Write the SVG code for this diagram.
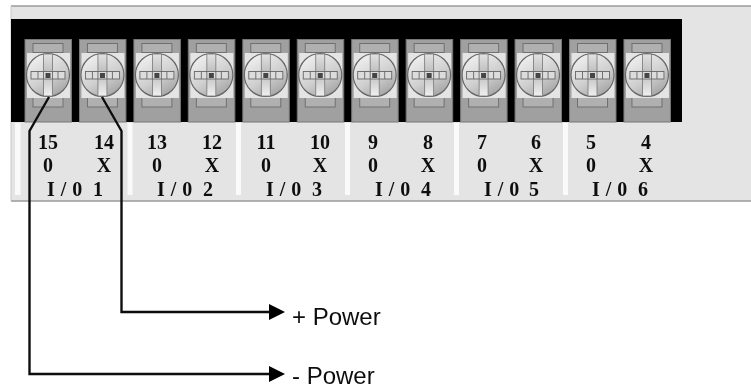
<svg xmlns="http://www.w3.org/2000/svg" width="751" height="389" viewBox="0 0 751 389">
<style>
.lab{font-family:"Liberation Serif","Times New Roman",serif;font-weight:bold;font-size:20px;fill:#111;text-anchor:middle}
.io{font-family:"Liberation Serif","Times New Roman",serif;font-weight:bold;font-size:20px;fill:#111;word-spacing:1px}
.pw{font-family:"Liberation Sans",Arial,sans-serif;font-size:24px;fill:#111}
.wire{fill:none;stroke:#111;stroke-width:2.4;stroke-linejoin:miter}
.sep{fill:#fafafa}
</style>
<defs>
<filter id="soft" x="-2%" y="-2%" width="104%" height="104%"><feGaussianBlur stdDeviation="0.45"/></filter>
<linearGradient id="disc" x1="0.25" y1="0.1" x2="0.75" y2="0.95"><stop offset="0" stop-color="#ececec"/><stop offset="0.55" stop-color="#cfcfcf"/><stop offset="1" stop-color="#a6a6a6"/></linearGradient>
<linearGradient id="barV" x1="0" y1="0" x2="0" y2="1"><stop offset="0" stop-color="#e2e2e2"/><stop offset="0.45" stop-color="#bdbdbd"/><stop offset="1" stop-color="#f0f0f0"/></linearGradient>
<marker id="arrow" markerUnits="userSpaceOnUse" markerWidth="17" markerHeight="18" refX="1" refY="9" orient="auto"><path d="M0 1L16 9L0 17Z" fill="#000"/></marker>
<g id="term">
<rect x="25" y="39.5" width="46.5" height="82.5" fill="#a0a0a0" stroke="#777" stroke-width="1"/>
<rect x="33" y="43.5" width="30" height="9" fill="#b0b0b0" stroke="#707070" stroke-width="1"/>
<rect x="33" y="97" width="30" height="10" fill="#b0b0b0" stroke="#707070" stroke-width="1"/>
<rect x="27" y="53" width="43" height="45" fill="#e4e4e4"/>
<circle cx="48" cy="75" r="21.5" fill="url(#disc)" stroke="#666" stroke-width="1.2"/>
<rect x="43.5" y="54" width="9" height="42" fill="url(#barV)" stroke="#777" stroke-width="0.8"/>
<rect x="31" y="71.5" width="34" height="7.5" fill="#dcdcdc" stroke="#666" stroke-width="0.9"/>
<path d="M38 71.5V79M58 71.5V79M43.5 71.5V79M52.5 71.5V79" stroke="#666" stroke-width="0.9" fill="none"/>
<rect x="45.5" y="73" width="5" height="5" fill="#444"/>
</g>
</defs>
<g filter="url(#soft)">
<g id="panel">
<rect x="11" y="6" width="745" height="195" fill="#e4e4e4"/>
<path d="M11 6H751M11 201H751" stroke="#9a9a9a" stroke-width="1.6" fill="none"/>
<path d="M11 6V201" stroke="#c8c8c8" stroke-width="1" fill="none"/>
<rect x="11" y="19" width="671" height="103" fill="#000"/>
<rect class="sep" x="15" y="123" width="5.5" height="72"/>
<rect class="sep" x="127.5" y="123" width="5" height="72"/>
<rect class="sep" x="236" y="123" width="5" height="72"/>
<rect class="sep" x="345" y="123" width="5" height="72"/>
<rect class="sep" x="454" y="123" width="5" height="72"/>
<rect class="sep" x="563" y="123" width="5" height="72"/>
</g>
<g id="terminal-15"><use href="#term"/><text class="lab" x="48" y="149">15</text><text class="lab" x="48" y="172">0</text></g>
<g id="terminal-14"><use href="#term" x="54.45"/><text class="lab" x="104" y="149">14</text><text class="lab" x="104" y="172">X</text></g>
<g id="terminal-13"><use href="#term" x="108.9"/><text class="lab" x="157" y="149">13</text><text class="lab" x="157" y="172">0</text></g>
<g id="terminal-12"><use href="#term" x="163.35"/><text class="lab" x="212" y="149">12</text><text class="lab" x="212" y="172">X</text></g>
<g id="terminal-11"><use href="#term" x="217.8"/><text class="lab" x="266" y="149">11</text><text class="lab" x="266" y="172">0</text></g>
<g id="terminal-10"><use href="#term" x="272.25"/><text class="lab" x="320" y="149">10</text><text class="lab" x="320" y="172">X</text></g>
<g id="terminal-9"><use href="#term" x="326.7"/><text class="lab" x="373" y="149">9</text><text class="lab" x="373" y="172">0</text></g>
<g id="terminal-8"><use href="#term" x="381.15"/><text class="lab" x="428" y="149">8</text><text class="lab" x="428" y="172">X</text></g>
<g id="terminal-7"><use href="#term" x="435.6"/><text class="lab" x="482" y="149">7</text><text class="lab" x="482" y="172">0</text></g>
<g id="terminal-6"><use href="#term" x="490.05"/><text class="lab" x="536" y="149">6</text><text class="lab" x="536" y="172">X</text></g>
<g id="terminal-5"><use href="#term" x="544.5"/><text class="lab" x="591" y="149">5</text><text class="lab" x="591" y="172">0</text></g>
<g id="terminal-4"><use href="#term" x="598.95"/><text class="lab" x="646" y="149">4</text><text class="lab" x="646" y="172">X</text></g>
<g id="io-labels">
<text class="io" x="47" y="195.5">I / 0 <tspan x="93">1</tspan></text>
<text class="io" x="157" y="195.5">I / 0 <tspan x="203">2</tspan></text>
<text class="io" x="266" y="195.5">I / 0 <tspan x="312">3</tspan></text>
<text class="io" x="375" y="195.5">I / 0 <tspan x="421">4</tspan></text>
<text class="io" x="484" y="195.5">I / 0 <tspan x="529">5</tspan></text>
<text class="io" x="592" y="195.5">I / 0 <tspan x="638">6</tspan></text>
</g>
<g id="connectors">
<path class="wire" d="M102 97L121.5 131V312H270" marker-end="url(#arrow)"/>
<path class="wire" d="M49 97L29.5 131V374H270" marker-end="url(#arrow)"/>
</g>
<g id="power-plus"><text class="pw" x="292" y="325">+ Power</text></g>
<g id="power-minus"><text class="pw" x="292" y="384">- Power</text></g>
</g>
</svg>
